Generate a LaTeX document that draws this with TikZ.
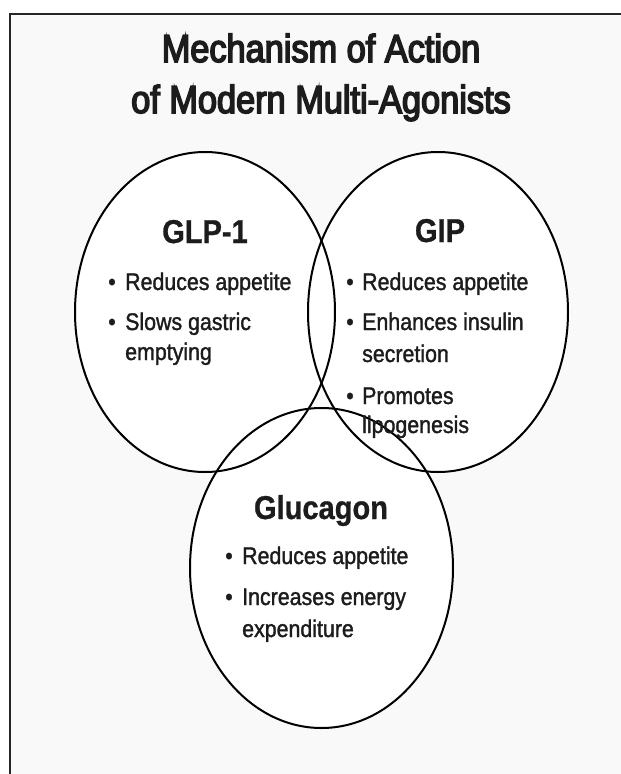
\documentclass[tikz,border=0pt]{standalone}
\usepackage{fontspec}
\setmainfont{Liberation Sans}
\newfontfamily\titlefont[FakeStretch=0.88,FakeBold=4]{Liberation Sans}
\newfontfamily\headfont[FakeStretch=0.88,FakeBold=0.8]{Liberation Sans Bold}
\newfontfamily\bodyfont[FakeStretch=0.89,FakeBold=1.4]{Liberation Sans}
\usetikzlibrary{shapes.geometric}
\definecolor{bgpanel}{RGB}{249,249,249}
\definecolor{ink}{RGB}{28,28,28}
\begin{document}
\begin{tikzpicture}[x=1pt,y=-1pt,
  venn/.style={ellipse,draw=black,line width=2pt,inner sep=0pt,outer sep=0pt},
  ttl/.style={anchor=base,text=ink,inner sep=0pt,font={\titlefont\fontsize{39}{47}\selectfont}},
  head/.style={anchor=base,text=ink,inner sep=0pt,font={\headfont\fontsize{33}{40}\selectfont}},
  item/.style={anchor=base west,text=ink,inner sep=0pt,font={\bodyfont\fontsize{24}{31}\selectfont}},
  bul/.style={anchor=base,text=ink,inner sep=0pt,font={\bodyfont\fontsize{24}{31}\selectfont}}]
\useasboundingbox (0,0) rectangle (621,774);
\clip (0,0) rectangle (621,774);
\fill[white] (0,0) rectangle (621,774);
\draw[line width=2pt,draw=black!85,fill=bgpanel] (10,14) rectangle (650,800);
% fills
\fill[white] (205,312) ellipse [x radius=130, y radius=160];
\fill[white] (438,312) ellipse [x radius=130, y radius=160];
\fill[white] (321.5,568) ellipse [x radius=131.5, y radius=160];
% outlines
\node[venn,minimum width=260pt,minimum height=320pt] (glp) at (205,312) {};
\node[venn,minimum width=260pt,minimum height=320pt] (gip) at (438,312) {};
\node[venn,minimum width=263pt,minimum height=320pt] (glu) at (321.5,568) {};
% title
\node[ttl] (t1) at (321,62) {Mechanism of Action};
\node[ttl] (t2) at (321,113) {of Modern Multi-Agonists};
% GLP-1
\node[head] (h1) at (205,243) {GLP-1};
\node[bul] (b11) at (112,290) {•};
\node[item] (i11) at (125,290) {Reduces appetite};
\node[bul] (b12) at (112,330) {•};
\node[item] (i12) at (125,330) {Slows gastric};
\node[item] (i12b) at (125,360) {emptying};
% GIP
\node[head] (h2) at (440,242) {GIP};
\node[bul] (b21) at (350,290) {•};
\node[item] (i21) at (362,290) {Reduces appetite};
\node[bul] (b22) at (350,330) {•};
\node[item] (i22) at (362,330) {Enhances insulin};
\node[item] (i22b) at (362,362) {secretion};
\node[bul] (b23) at (350,404) {•};
\node[item] (i23) at (362,404) {Promotes};
\node[item] (i23b) at (362,433) {lipogenesis};
% Glucagon
\node[head] (h3) at (321,519) {Glucagon};
\node[bul] (b31) at (229,564) {•};
\node[item] (i31) at (242,564) {Reduces appetite};
\node[bul] (b32) at (229,605) {•};
\node[item] (i32) at (242,605) {Increases energy};
\node[item] (i32b) at (242,637) {expenditure};
\end{tikzpicture}
\end{document}
